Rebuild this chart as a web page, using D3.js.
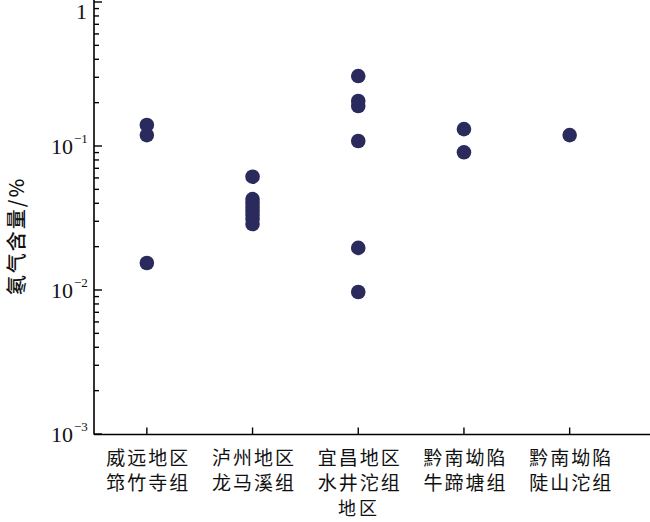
<!DOCTYPE html>
<html><head><meta charset="utf-8">
<script src="https://cdn.jsdelivr.net/npm/d3@7"></script>
<style>body{margin:0;background:#fff}svg{display:block}</style>
</head><body>
<svg id="c" width="650" height="522"></svg>
<script>
const categories = ["威远地区\n筇竹寺组","泸州地区\n龙马溪组","宜昌地区\n水井沱组","黔南坳陷\n牛蹄塘组","黔南坳陷\n陡山沱组"];
const weiyuan = [0.140, 0.119, 0.0154];
const luzhou = [0.0612, 0.0428, 0.0402, 0.0377, 0.0354, 0.0332, 0.0311, 0.0287];
const yichang = [0.306, 0.2054, 0.1896, 0.1083, 0.0196, 0.00968];
const niutitang = [0.131, 0.0904];
const doushantuo = [0.119];
const seriesValues = [weiyuan, luzhou, yichang, niutitang, doushantuo];
const yTickExps = [0, -1, -2, -3];
const xTitle = "地区";
const yTitle = "氡气含量/%";

(function(){
const svg = d3.select("#c");
const left = 94, bottom = 434.5;
const x = d3.scaleBand().domain(categories).range([left, left + 5*105.7]).paddingInner(0).paddingOuter(0);
const y = d3.scaleLog().domain([1e-3, 1]).range([434, 2]);
const color = "#2a2b5c";
const cjk = "'Noto Sans CJK SC', sans-serif";

svg.append("line").attr("x1", left).attr("x2", left).attr("y1", 0).attr("y2", bottom).attr("stroke","#000").attr("stroke-width",1.6);
svg.append("line").attr("x1", left).attr("x2", 650).attr("y1", bottom).attr("y2", bottom).attr("stroke","#000").attr("stroke-width",1.6);

const minor = [];
for (let e = -3; e < 0; e++) for (let m = 2; m <= 9; m++) minor.push(m * Math.pow(10, e));
svg.selectAll(".ymin").data(minor).enter().append("line")
  .attr("x1", left).attr("x2", left + 5).attr("y1", d => y(d)).attr("y2", d => y(d))
  .attr("stroke", "#000").attr("stroke-width", 1.4);
svg.selectAll(".ymaj").data(yTickExps).enter().append("line")
  .attr("x1", left).attr("x2", left + 8).attr("y1", d => y(Math.pow(10, d))).attr("y2", d => y(Math.pow(10, d)))
  .attr("stroke", "#000").attr("stroke-width", 1.4);

yTickExps.forEach(e => {
  const yy = y(Math.pow(10, e));
  if (e === 0) {
    svg.append("text").attr("x", 87).attr("y", yy + 17).attr("text-anchor","end")
      .attr("font-family","'Liberation Serif', serif").attr("font-size", 22).attr("fill","#111").text("1");
  } else {
    svg.append("text").attr("x", 73).attr("y", yy + 8).attr("text-anchor","end")
      .attr("font-family","'Liberation Serif', serif").attr("font-size", 22).attr("fill","#111").text("10");
    svg.append("text").attr("x", 74).attr("y", yy - 3).attr("text-anchor","start")
      .attr("font-family","'Liberation Serif', serif").attr("font-size", 13).attr("fill","#111").text("\u2212" + (-e));
  }
});

svg.selectAll(".xt").data(categories).enter().append("line")
  .attr("x1", d => x(d) + x.bandwidth()/2).attr("x2", d => x(d) + x.bandwidth()/2)
  .attr("y1", bottom).attr("y2", bottom - 7).attr("stroke","#000").attr("stroke-width",1.4);

categories.forEach(c => {
  const lines = c.split("\n");
  lines.forEach((ln, i) => {
    svg.append("text").attr("x", x(c) + x.bandwidth()/2 + 1.5).attr("y", 465 + i*25)
      .attr("text-anchor","middle").attr("font-family", cjk).attr("font-size", 19)
      .attr("letter-spacing", 2).attr("fill","#111").text(ln);
  });
});

svg.append("text").attr("x", 359).attr("y", 515).attr("text-anchor","middle")
  .attr("font-family", cjk).attr("font-size", 18).attr("letter-spacing", 3).attr("fill","#111").text(xTitle);
svg.append("text").attr("transform","translate(24,236) rotate(-90)").attr("text-anchor","middle")
  .attr("font-family", cjk).attr("font-size", 20).attr("letter-spacing", 2).attr("font-weight", 500).attr("fill","#111").text(yTitle);

const pts = [];
seriesValues.forEach((vals, i) => vals.forEach(v => pts.push({c: categories[i], v})));
svg.selectAll(".pt").data(pts).enter().append("circle")
  .attr("cx", d => x(d.c) + x.bandwidth()/2)
  .attr("cy", d => y(d.v))
  .attr("r", 7.3).attr("fill", color);
})();
</script>
</body></html>
